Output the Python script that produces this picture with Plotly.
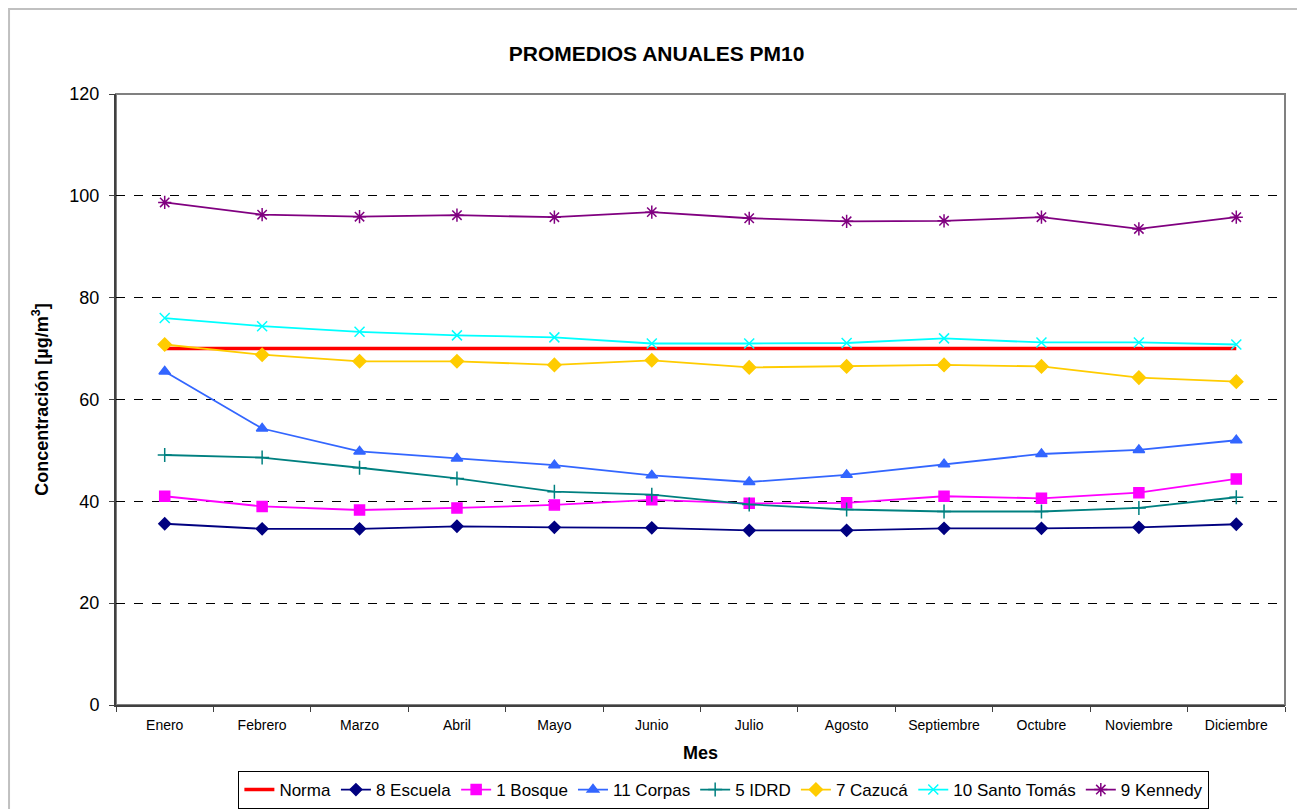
import plotly.graph_objects as go

meses = ["Enero", "Febrero", "Marzo", "Abril", "Mayo", "Junio", "Julio",
         "Agosto", "Septiembre", "Octubre", "Noviembre", "Diciembre"]

norma = [70] * 12
escuela = [35.6, 34.6, 34.6, 35.1, 34.9, 34.8, 34.3, 34.3, 34.7, 34.7, 34.9, 35.5]
bosque = [41.0, 39.0, 38.3, 38.7, 39.3, 40.3, 39.6, 39.7, 41.0, 40.6, 41.7, 44.4]
corpas = [65.5, 54.3, 49.8, 48.4, 47.1, 45.1, 43.8, 45.2, 47.3, 49.3, 50.1, 52.0]
idrd = [49.1, 48.6, 46.6, 44.5, 41.9, 41.3, 39.4, 38.4, 38.0, 38.0, 38.7, 40.8]
cazuca = [70.8, 68.8, 67.5, 67.5, 66.8, 67.7, 66.3, 66.5, 66.8, 66.5, 64.3, 63.5]
santo_tomas = [76.0, 74.4, 73.3, 72.6, 72.2, 71.0, 71.0, 71.1, 72.0, 71.2, 71.2, 70.8]
kennedy = [98.7, 96.3, 95.9, 96.2, 95.8, 96.8, 95.6, 95.0, 95.1, 95.8, 93.5, 95.8]

# (nombre, datos, color, simbolo, tamaño)
series = [
    ("8 Escuela", escuela, "#000080", "diamond", 9),
    ("1 Bosque", bosque, "#FF00FF", "square", 10),
    ("11 Corpas", corpas, "#3366FF", "triangle-up", 10),
    ("5 IDRD", idrd, "#008080", "cross-thin", 10),
    ("7 Cazucá", cazuca, "#FFCC00", "diamond", 10),
    ("10 Santo Tomás", santo_tomas, "#00FFFF", "x-thin", 10),
    ("9 Kennedy", kennedy, "#800080", "asterisk", 11),
]

fig = go.Figure()
fig.add_trace(go.Scatter(x=meses, y=norma, name="Norma", mode="lines",
                         line=dict(color="#FF0000", width=3.5)))
for nombre, datos, color, simbolo, tam in series:
    fig.add_trace(go.Scatter(
        x=meses, y=datos, name=nombre, mode="lines+markers",
        line=dict(color=color, width=1.8),
        marker=dict(symbol=simbolo, size=tam, color=color,
                    line=dict(color=color, width=1.5)),
    ))

# la página añade 8 px de margen, se compensa en los márgenes
fig.update_layout(
    width=1305, height=809,
    paper_bgcolor="white", plot_bgcolor="white",
    margin=dict(l=108, r=28, t=86, b=112, autoexpand=False),
    font=dict(family="Liberation Sans, Arial, sans-serif", color="black"),
    title=dict(text="<b>PROMEDIOS ANUALES PM10</b>", x=0.497, xanchor="center",
               y=0.944, yanchor="middle", font=dict(size=21)),
    showlegend=True,
    legend=dict(orientation="h", x=0.52, xanchor="center", y=-0.108, yanchor="top",
                bordercolor="black", borderwidth=1, font=dict(size=17),
                itemwidth=30, tracegroupgap=0),
    shapes=[
        dict(type="rect", xref="x domain", yref="y domain", x0=0, x1=1, y0=0, y1=1,
             line=dict(color="#808080", width=2), layer="below"),
        dict(type="rect", xref="paper", yref="paper", x0=-0.0915, x1=1.0155,
             y0=-0.2, y1=1.139, line=dict(color="#C0C0C0", width=2)),
    ],
)

fig.update_xaxes(
    title=dict(text="<b>Mes</b>", font=dict(size=18), standoff=15),
    range=[-0.5, 11.5], automargin=False,
    showline=True, linecolor="#404040", linewidth=2,
    ticks="outside", tickson="boundaries", ticklen=5, tickcolor="#404040",
    tickfont=dict(size=14), ticklabelstandoff=6, showgrid=False,
)
fig.update_yaxes(
    title=dict(text="<b>Concentración [µg/m<sup>3</sup>]</b>", font=dict(size=18), standoff=16),
    range=[0, 120], dtick=20, automargin=False,
    showline=True, linecolor="#404040", linewidth=2,
    ticks="outside", ticklen=5, tickcolor="#404040",
    tickfont=dict(size=18), ticklabelstandoff=6,
    showgrid=True, gridcolor="#000000", gridwidth=1, griddash="dash",
    zeroline=False,
)

fig.write_html("out.html")
